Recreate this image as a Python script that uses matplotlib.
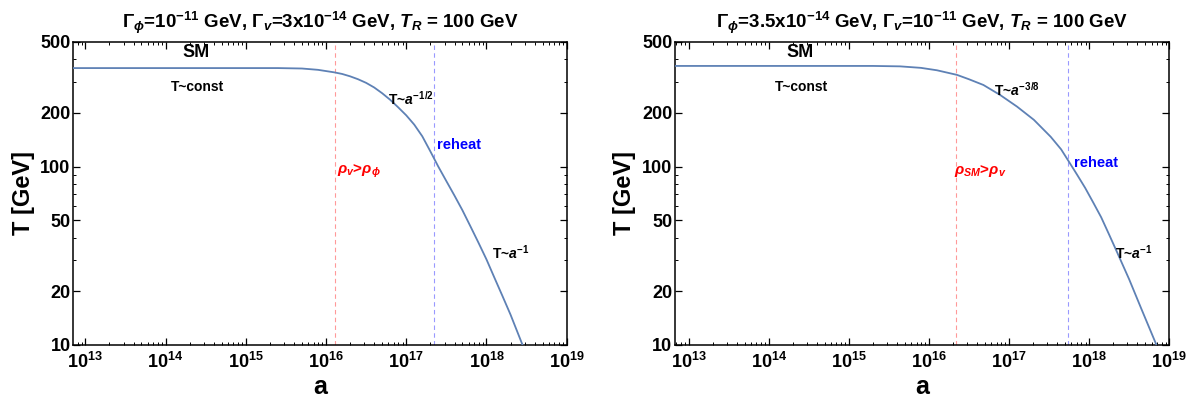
import numpy as np
import matplotlib
matplotlib.use("Agg")
import matplotlib.pyplot as plt
from matplotlib.ticker import LogLocator, FixedLocator, FixedFormatter, LogFormatterMathtext, NullFormatter

plt.rcParams['font.family'] = ['Liberation Sans', 'DejaVu Sans']
plt.rcParams['font.weight'] = 'bold'
plt.rcParams['mathtext.fontset'] = 'custom'
plt.rcParams['mathtext.rm'] = 'Liberation Sans:bold'
plt.rcParams['mathtext.bf'] = 'Liberation Sans:bold'
plt.rcParams['mathtext.it'] = 'Liberation Sans:bold:italic'
plt.rcParams['mathtext.sf'] = 'Liberation Sans:bold'

# ---- data ----
# Left panel: Gamma_phi = 1e-11 GeV, Gamma_v = 3e-14 GeV  (log10 a, T in GeV)
loga_left = [12.85, 15.0, 15.4, 15.7, 15.9, 16.1, 16.2, 16.3, 16.4, 16.5, 16.6, 16.7,
             16.8, 16.9, 17.0, 17.1, 17.2, 17.3, 17.4, 17.5, 17.6, 17.7, 17.8, 17.9,
             18.0, 18.1, 18.2, 18.3, 18.45]
T_left = [357, 357, 357, 355, 349, 338, 331, 321, 309, 295, 278, 258,
          237, 215, 194, 172, 148, 122, 100, 83, 69, 57, 46.3, 37.5,
          30.2, 23.8, 18.8, 14.8, 10]
a_eq_left = 1.3e16
a_rh_left = 2.2e17

# Right panel: Gamma_phi = 3.5e-14 GeV, Gamma_v = 1e-11 GeV
loga_right = [12.83, 15.0, 15.3, 15.64, 15.9, 16.1, 16.35, 16.5, 16.68, 16.89, 17.10,
              17.31, 17.52, 17.65, 17.745, 17.85, 17.95, 18.05, 18.15, 18.25, 18.35,
              18.5, 18.65, 18.84]
T_right = [367, 367, 367, 365, 358, 347, 327, 309, 287, 252, 217,
           183, 147, 125, 107, 90, 76, 63, 52, 41.5, 33,
           23.3, 16.0, 10]
a_eq_right = 2.15e16
a_rh_right = 5.5e17

titles = [r'$\Gamma_{\phi}$=10$^{-11}$ GeV, $\Gamma_{v}$=3x10$^{-14}$ GeV, $T_{R}$ = 100 GeV',
          r'$\Gamma_{\phi}$=3.5x10$^{-14}$ GeV, $\Gamma_{v}$=10$^{-11}$ GeV, $T_{R}$ = 100 GeV']
x_ticks = [1e13, 1e14, 1e15, 1e16, 1e17, 1e18, 1e19]
y_ticks = [10, 20, 50, 100, 200, 500]
y_ticklabels = ['10', '20', '50', '100', '200', '500']

curve_color = '#5E81B5'

fig = plt.figure(figsize=(11.94, 4.01), dpi=100)
ax1 = fig.add_axes([0.0614, 0.1397, 0.4132, 0.7556])
ax2 = fig.add_axes([0.5653, 0.1397, 0.4140, 0.7556])

panels = [
    (ax1, loga_left, T_left, a_eq_left, a_rh_left, 10**12.85, titles[0],
     [('SM', 10**14.38, 435, 'black', 13),
      ('T~const', 10**14.40, 280, 'black', 10),
      (r'T~$\mathit{a}^{-1/2}$', 10**17.06, 239, 'black', 10),
      ('reheat', 10**17.66, 132, 'blue', 10.5),
      (r'$\rho_{v}$>$\rho_{\phi}$', 10**16.41, 94, 'red', 11),
      (r'T~$\mathit{a}^{-1}$', 10**18.30, 33, 'black', 10)]),
    (ax2, loga_right, T_right, a_eq_right, a_rh_right, 10**12.83, titles[1],
     [('SM', 10**14.39, 435, 'black', 13),
      ('T~const', 10**14.41, 280, 'black', 10),
      (r'T~$\mathit{a}^{-3/8}$', 10**17.10, 269, 'black', 10),
      ('reheat', 10**18.08, 105, 'blue', 10.5),
      (r'$\rho_{SM}$>$\rho_{v}$', 10**16.64, 94, 'red', 11),
      (r'T~$\mathit{a}^{-1}$', 10**18.56, 33, 'black', 10)]),
]

for ax, la, T, a_eq, a_rh, xmin, title, texts in panels:
    a = [10.0 ** v for v in la]
    ax.plot(a, T, color=curve_color, lw=1.3, zorder=3)
    ax.axvline(a_eq, color='#FF9999', lw=0.8, ls=(0, (4, 3)), zorder=2)
    ax.axvline(a_rh, color='#9999FF', lw=0.8, ls=(0, (4, 3)), zorder=2)
    ax.set_xscale('log')
    ax.set_yscale('log')
    ax.set_xlim(xmin, 1e19)
    ax.set_ylim(10, 500)
    ax.xaxis.set_major_locator(FixedLocator(x_ticks))
    ax.xaxis.set_minor_locator(LogLocator(base=10, subs=np.arange(2, 10), numticks=100))
    ax.xaxis.set_major_formatter(LogFormatterMathtext())
    ax.xaxis.set_minor_formatter(NullFormatter())
    ax.yaxis.set_major_locator(FixedLocator(y_ticks))
    ax.yaxis.set_major_formatter(FixedFormatter(y_ticklabels))
    ax.yaxis.set_minor_locator(FixedLocator([30, 40, 60, 70, 80, 90, 300, 400]))
    ax.yaxis.set_minor_formatter(NullFormatter())
    ax.tick_params(which='both', direction='in', top=True, right=True, labelsize=13)
    ax.tick_params(axis='x', pad=5)
    ax.tick_params(axis='y', pad=2)
    ax.tick_params(which='major', length=5, width=0.9)
    ax.tick_params(which='minor', length=2.5, width=0.7)
    for sp in ax.spines.values():
        sp.set_linewidth(1.1)
    ax.set_title(title, fontsize=13.5, fontweight='bold', pad=10)
    ax.set_xlabel('a', fontsize=18, fontweight='bold', labelpad=2)
    ax.set_ylabel('T [GeV]', fontsize=17, fontweight='bold', labelpad=4)
    for s, x, y, c, fs in texts:
        ax.text(x, y, s, color=c, fontsize=fs, fontweight='bold', ha='center', va='center')

fig.savefig('out.png', dpi=100)
